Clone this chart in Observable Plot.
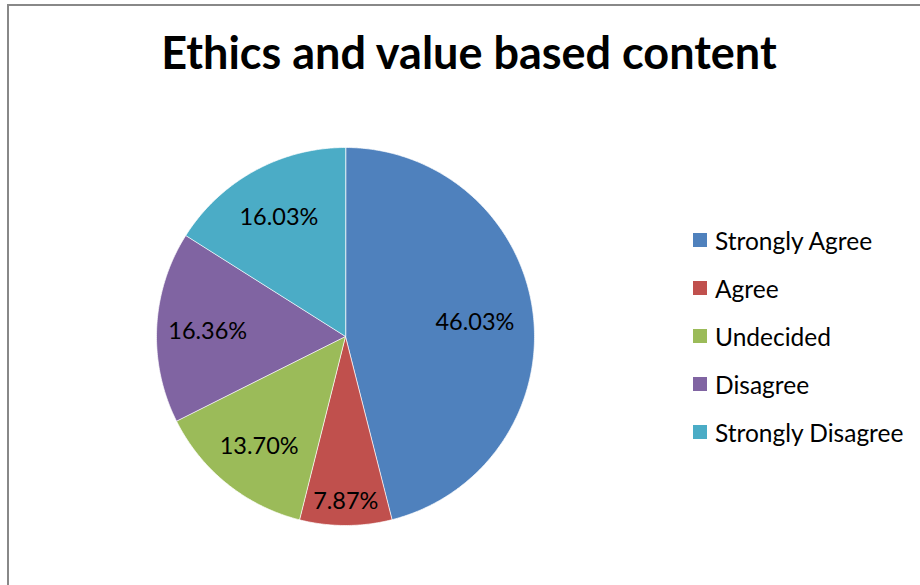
<!DOCTYPE html>
<html>
<head>
<meta charset="utf-8">
<script src="https://cdn.jsdelivr.net/npm/d3@7"></script>
<script src="https://cdn.jsdelivr.net/npm/@observablehq/plot@0.6"></script>
<style>
  html, body { margin: 0; padding: 0; background: #fff; }
  #wrap { position: relative; width: 920px; height: 585px; overflow: hidden; font-family: Lato, "Open Sans", sans-serif; }
  #frame { position: absolute; left: 7px; top: 4px; width: 930px; height: 600px; border-top: 2px solid #888; border-left: 2px solid #888; box-sizing: border-box; }
  #title { position: absolute; left: 0; width: 938px; top: 25px; text-align: center; font-weight: bold; font-size: 45px; line-height: 54px; color: #000; font-family: Lato, sans-serif; }
  #chart { position: absolute; left: 0; top: 0; }
  #legend { position: absolute; left: 693px; top: 216px; }
  .item { display: flex; align-items: center; height: 48px; font-size: 24.5px; color: #000; }
  .sw { width: 14px; height: 14px; margin-right: 8px; }
</style>
</head>
<body>
<div id="wrap">
  <div id="frame"></div>
  <div id="title">Ethics and value based content</div>
  <div id="chart"></div>
  <div id="legend"></div>
</div>
<script>
const categories = ["Strongly Agree", "Agree", "Undecided", "Disagree", "Strongly Disagree"];
const values = [46.03, 7.87, 13.70, 16.36, 16.03];
const labels = ["46.03%", "7.87%", "13.70%", "16.36%", "16.03%"];
const colors = ["#4F81BD", "#C0504D", "#9BBB59", "#8064A2", "#4BACC6"];

const W = 920, H = 585, cx = 345, cy = 336, R = 189;
const pie = d3.pie().sort(null).value(d => d.value)(categories.map((c, i) => ({cat: c, value: values[i], label: labels[i]})));

const poly = [];
const labs = [];
for (const a of pie) {
  poly.push({cat: a.data.cat, x: 0, y: 0});
  const n = Math.max(4, Math.ceil((a.endAngle - a.startAngle) / 0.01));
  for (let k = 0; k <= n; k++) {
    const t = a.startAngle + (a.endAngle - a.startAngle) * k / n;
    poly.push({cat: a.data.cat, x: Math.sin(t), y: Math.cos(t)});
  }
  const m = (a.startAngle + a.endAngle) / 2;
  const f = a.data.value < 10 ? 0.86 : a.data.value > 40 ? 0.69 : 0.73;
  labs.push({label: a.data.label, x: f * Math.sin(m), y: f * Math.cos(m)});
}

const chart = Plot.plot({
  width: W, height: H,
  margin: 0,
  x: {domain: [-cx / R, (W - cx) / R], axis: null},
  y: {domain: [-(H - cy) / R, cy / R], axis: null},
  color: {domain: categories, range: colors},
  style: {background: "transparent", fontFamily: "Lato, sans-serif"},
  marks: [
    Plot.line(poly, {x: "x", y: "y", z: "cat", fill: "cat", stroke: "#fff", strokeWidth: 0.7, curve: "linear-closed"}),
    Plot.text(labs, {x: "x", y: "y", dy: 2, text: "label", fontSize: 23.5, fill: "#000"})
  ]
});
document.getElementById("chart").appendChild(chart);

const lg = document.getElementById("legend");
categories.forEach((c, i) => {
  const d = document.createElement("div");
  d.className = "item";
  d.innerHTML = `<span class="sw" style="background:${colors[i]}"></span><span>${c}</span>`;
  lg.appendChild(d);
});
</script>
</body>
</html>
